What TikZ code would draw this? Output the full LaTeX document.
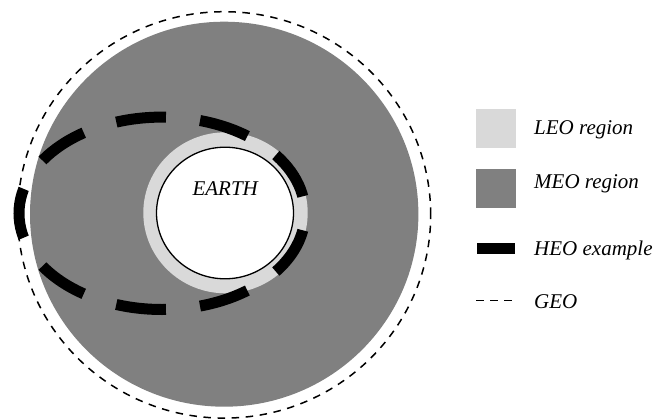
\documentclass[tikz,border=0pt]{standalone}
\usepackage{fontspec}
\setmainfont{Liberation Serif}
\usetikzlibrary{positioning}
\definecolor{leogray}{HTML}{D9D9D9}
\definecolor{meogray}{HTML}{808080}

\begin{document}
\begin{tikzpicture}[x=1pt, y=-1pt, font=\itshape\fontsize{21}{25}\selectfont,
  key/.style={inner sep=0pt, minimum width=40pt, minimum height=39pt},
  lbl/.style={anchor=base west, inner sep=0pt},
  geoline/.style={line width=1.5pt, dash pattern=on 7.5pt off 6.6pt},
  heoline/.style={line width=11pt, dash pattern=on 50pt off 34.3pt, dash phase=67.15pt}]
\useasboundingbox[fill=white] (0,0) rectangle (656,420);
% orbit regions
\draw[geoline] (224.2,214.9) ellipse [x radius=206.5pt, y radius=203.2pt];
\fill[meogray] (224.2,214.2) ellipse [x radius=194.2pt, y radius=192.5pt];
\fill[leogray] (225.5,212.8) ellipse [x radius=82.2pt, y radius=80.5pt];
\draw[fill=white, line width=1.3pt] (225,213) ellipse [x radius=68.5pt, y radius=65.8pt];
\draw[heoline] (162,213.3) ellipse [x radius=143pt, y radius=96.2pt];
\node[inner sep=0pt, anchor=base] (earth) at (225.2,195) {EARTH};
% legend
\node[key, fill=leogray] (leokey) at (496,128.2) {};
\node[key, fill=meogray] (meokey) at (496,188.8) {};
\node[key, fill=black, minimum width=38pt, minimum height=10.7pt] (heokey) at (495.7,248.7) {};
\coordinate (geokeyw) at (476,300.7);
\coordinate (geokeye) at (511.7,300.7);
\draw[geoline] (geokeyw) -- (geokeye);
\node[lbl] (leolbl) at (534,134.4) {LEO region};
\node[lbl] (meolbl) at (534,188.6) {MEO region};
\node[lbl] (heolbl) at (534,255.2) {HEO example};
\node[lbl] (geolbl) at (534,308.1) {GEO};
\end{tikzpicture}
\end{document}
